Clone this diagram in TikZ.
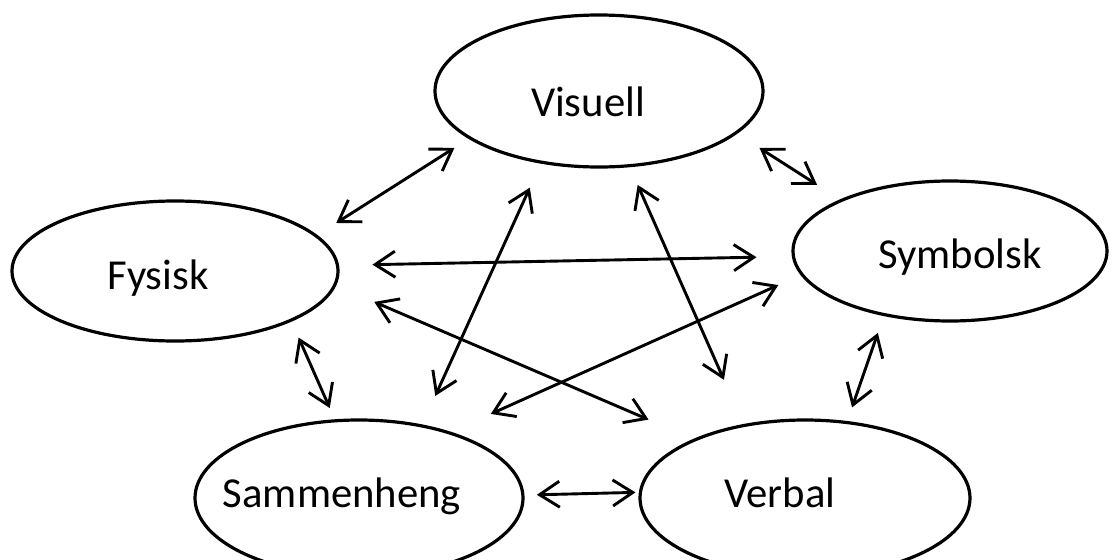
\documentclass[tikz,border=0pt]{standalone}
\usepackage{fontspec}
\setmainfont{Carlito}
\usetikzlibrary{arrows.meta,shapes.geometric}
\begin{document}
\begin{tikzpicture}[x=1pt,y=-1pt,
  ell/.style={draw, ellipse, line width=3.2pt, inner sep=0pt, outer sep=0pt},
  lbl/.style={anchor=base, inner sep=0pt, font=\fontsize{42.7}{50}\selectfont},
  arr/.style={line width=2.9pt, {Straight Barb[length=20pt,width=26pt]}-{Straight Barb[length=20pt,width=26pt]}}]
\useasboundingbox (0,0) rectangle (1112,560);
\clip (0,0) rectangle (1112,560);
\node[ell, minimum width=328pt, minimum height=152pt] (V) at (599,91) {};
\node[ell, minimum width=326pt, minimum height=140pt] (F) at (175,271) {};
\node[ell, minimum width=314pt, minimum height=140pt] (S) at (950,251) {};
\node[ell, minimum width=328pt, minimum height=156pt] (M) at (359,498) {};
\node[ell, minimum width=330pt, minimum height=156pt] (B) at (805,498) {};
\node[lbl] (tV) at (588,116) {Visuell};
\node[lbl] (tF) at (158,289) {Fysisk};
\node[lbl] (tS) at (960,268) {Symbolsk};
\node[lbl] (tM) at (342,507) {Sammenheng};
\node[lbl] (tB) at (780,507) {Verbal};
\draw[arr, shorten <=24pt, shorten >=18.5pt] (F.14.6) -- (V.200.2);
\draw[arr, shorten <=28pt, shorten >=29pt] (V.343.3) -- (S.155.9);
\draw[arr, shorten <=35pt, shorten >=37pt] (F.2.5) -- (S.182.6);
\draw[arr, shorten <=19pt, shorten >=14pt] (F.337.5) -- (M.107);
\draw[arr, shorten <=19.5pt, shorten >=16pt] (S.224.3) -- (B.61.9);
\draw[arr, shorten <=14pt, shorten >=5pt] (M.1.8) -- (B.178.3);
\draw[arr, shorten <=28pt, shorten >=33pt] (V.231.2) -- (M.49.2);
\draw[arr, shorten <=21pt, shorten >=50pt] (V.292.2) -- (B.130);
\draw[arr, shorten <=43pt, shorten >=51pt] (F.355.9) -- (B.152.7);
\draw[arr, shorten <=26pt, shorten >=46pt] (S.189.9) -- (M.36.4);
\end{tikzpicture}
\end{document}
